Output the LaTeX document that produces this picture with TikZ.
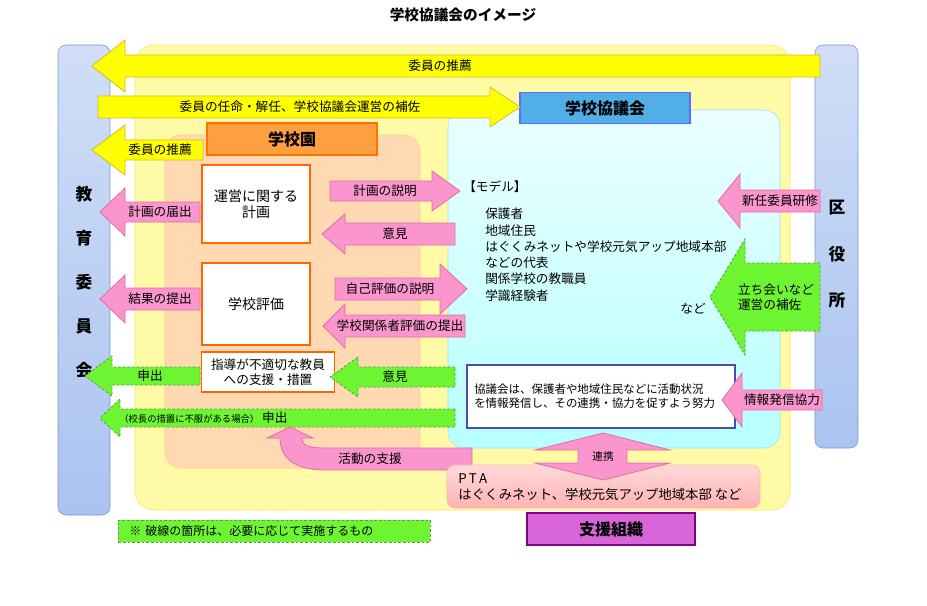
\documentclass[tikz,border=0pt]{standalone}
\usepackage{fontspec}
\setmainfont{Noto Sans CJK JP}
\usetikzlibrary{positioning}

\definecolor{yarrow}{RGB}{255,255,0}
\definecolor{yline}{RGB}{215,185,40}
\definecolor{parrow}{RGB}{250,150,205}
\definecolor{pline}{RGB}{225,110,160}
\definecolor{garrow}{RGB}{110,245,50}
\definecolor{gline}{RGB}{90,160,60}
\definecolor{panel}{RGB}{170,195,240}
\definecolor{panelline}{RGB}{120,150,210}

\tikzset{
  yarr/.style={fill=yarrow,draw=yline,line width=0.6pt},
  parr/.style={fill=parrow,draw=pline,line width=0.6pt},
  garr/.style={fill=garrow,draw=gline,line width=0.6pt,dash pattern=on 2pt off 1.5pt},
  lbl/.style={inner sep=0.75pt,font=\fontsize{9.5}{11}\selectfont},
  box/.style={fill=white,draw=orange!80!red,line width=1.2pt,align=center,font=\fontsize{10.5}{12}\selectfont},
  head/.style={draw,line width=0.8pt,font=\bfseries\fontsize{12}{14}\selectfont,inner sep=0pt},
  vtext/.style={font=\bfseries\fontsize{12.5}{14}\selectfont}
}

% style, tail x, head base x, tip x, centre y, half body, half head
\newcommand\flatarrow[7]{%
  \draw[#1] ({#2},{#5-#6}) -- ({#3},{#5-#6}) -- ({#3},{#5-#7}) -- ({#4},{#5})
    -- ({#3},{#5+#7}) -- ({#3},{#5+#6}) -- ({#2},{#5+#6}) -- cycle;}

\begin{document}
\begin{tikzpicture}[x=0.75pt,y=0.75pt,yscale=-1]
  \useasboundingbox (0,0) rectangle (927,606);

  % title
  \node[font=\bfseries\fontsize{11}{13}\selectfont] (title) at (463,15) {学校協議会のイメージ};

  % side panels
  \draw[rounded corners=6pt,draw=panelline,top color=panel!55,bottom color=panel] (58,45) rectangle (110,515);
  \draw[rounded corners=6pt,draw=panelline,top color=panel!55,bottom color=panel] (815,45) rectangle (858,448);
  \foreach \t [count=\i] in {教,育,委,員,会}
    \node[vtext] (kyoi\i) at (84,{150+44*\i}) {\t};
  \foreach \t [count=\i] in {区,役,所}
    \node[vtext] (ku\i) at (837,{162+46*\i}) {\t};

  % regions
  \draw[rounded corners=14pt,fill=yellow!35,draw=yellow!70!orange!60] (135,45) rectangle (790,510);
  \draw[rounded corners=12pt,fill=orange!30!white,draw=orange!40] (165,135) rectangle (420,468);
  \draw[rounded corners=12pt,draw=cyan!40,top color=cyan!8,bottom color=cyan!28] (448,110) rectangle (780,448);

  % headers
  \node[head,fill=orange!75,draw=orange!90!red,minimum width=170*0.75pt,minimum height=32*0.75pt] (gakkoen) at (292,139) {学校園};
  \node[head,fill=cyan!80!blue!70,draw=blue!60,minimum width=170*0.75pt,minimum height=31*0.75pt] (kyogikai) at (605,108) {学校協議会};

  % yellow arrows
  \flatarrow{yarr}{820}{125}{92}{66}{11}{26}
  \node[lbl] (suisen1) at (440,66) {委員の推薦};
  \flatarrow{yarr}{98}{490}{520}{107}{11}{20}
  \node[lbl] (ninmei) at (300,107) {委員の任命・解任、学校協議会運営の補佐};
  \flatarrow{yarr}{203}{125}{92}{150}{10}{25}
  \node[lbl] (suisen2) at (160,150) {委員の推薦};

  % school boxes
  \node[box,minimum width=108*0.75pt,minimum height=78*0.75pt] (keikaku) at (256,204) {運営に関する\\計画};
  \node[box,minimum width=108*0.75pt,minimum height=82*0.75pt] (hyoka) at (256,304) {学校評価};
  \node[box,minimum width=133*0.75pt,minimum height=40*0.75pt,font=\fontsize{9.5}{11}\selectfont] (shido) at (268,372) {指導が不適切な教員\\への支援・措置};

  % pink arrows
  \flatarrow{parr}{200}{125}{100}{212}{10}{24}
  \node[lbl] (todoke) at (160,212) {計画の届出};
  \flatarrow{parr}{200}{125}{100}{299}{11}{24}
  \node[lbl] (teishutsu) at (160,299) {結果の提出};
  \flatarrow{parr}{330}{432}{460}{191}{10}{20}
  \node[lbl] (setsumei) at (385,191) {計画の説明};
  \flatarrow{parr}{455}{345}{322}{234}{11}{20}
  \node[lbl] (iken1) at (395,234) {意見};
  \flatarrow{parr}{335}{440}{467}{289}{11}{25}
  \node[lbl] (jiko) at (390,289) {自己評価の説明};
  \flatarrow{parr}{465}{345}{323}{326}{11}{22}
  \node[lbl] (kankei) at (400,326) {学校関係者評価の提出};

  % green arrows
  \flatarrow{garr}{200}{112}{85}{376}{9}{20}
  \node[lbl] (moshide1) at (150,376) {申出};
  \flatarrow{garr}{455}{358}{330}{377}{10}{20}
  \node[lbl] (iken2) at (395,377) {意見};
  \flatarrow{garr}{455}{120}{100}{418}{9}{19}
  \node[lbl,anchor=west] (moshide2) at (118,418) {{\fontsize{7}{8}\selectfont（校長の措置に不服がある場合）}\ 申出};

  % curved support arrow
  \draw[parr] (472,448) -- (325,448) .. controls (308,448) and (302,445) .. (302,438)
    -- (313,438) -- (290,427) -- (267,438) -- (280,438) .. controls (280,458) and (295,470) .. (325,470)
    -- (472,470) -- cycle;
  \node[lbl] (shien) at (370,459) {活動の支援};

  % council contents
  \node[lbl,anchor=west] (model) at (462,187) {【モデル】};
  \node[lbl,anchor=north west,align=left,font=\fontsize{9.5}{12.2}\selectfont] (members) at (484,207)
    {保護者\\地域住民\\はぐくみネットや学校元気アップ地域本部\\などの代表\\関係学校の教職員\\学識経験者};
  \node[lbl] (nado1) at (693,309) {など};
  \draw[fill=white,draw=blue!60!black!70,line width=1pt] (467,365) rectangle (735,428);
  \node[align=left,anchor=west,inner sep=0pt,font=\fontsize{8.6}{10.5}\selectfont] (doryoku) at (474,396)
    {協議会は、保護者や地域住民などに活動状況\\を情報発信し、その連携・協力を促すよう努力};

  % ward office arrows
  \flatarrow{parr}{820}{740}{718}{201}{11}{27}
  \node[lbl] (kenshu) at (780,201) {新任委員研修};
  \flatarrow{garr}{820}{745}{710}{297}{34}{58}
  \node[lbl,align=left] (tachiai) at (776,297) {立ち会いなど\\運営の補佐};
  \flatarrow{parr}{822}{742}{722}{400}{10}{27}
  \node[lbl] (hasshin) at (782,400) {情報発信協力};

  % support organisations
  \draw[rounded corners=6pt,draw=red!30,top color=red!15,bottom color=red!30] (447,465) rectangle (760,508);
  \node[lbl,anchor=west,align=left,font=\fontsize{10}{12}\selectfont] (pta) at (457,487) {P\,T\,A\\はぐくみネット、学校元気アップ地域本部 など};
  \node[head,fill=violet!50!magenta!60,draw=violet,minimum width=168*0.75pt,minimum height=32*0.75pt] (soshiki) at (611,529) {支援組織};

  % cooperation double arrow
  \draw[parr] (578,450) -- (535,450) -- (603,433) -- (670,450) -- (627,450) -- (627,463)
    -- (670,463) -- (603,480) -- (535,463) -- (578,463) -- cycle;
  \node[lbl,font=\fontsize{8}{9}\selectfont] (renkei) at (603,456) {連携};

  % note
  \node[garr,anchor=west,minimum width=312*0.75pt,minimum height=22*0.75pt,inner xsep=6pt,font=\fontsize{9}{10}\selectfont,align=left,text width=290*0.75pt] (note) at (118,531)
    {※\ 破線の箇所は、必要に応じて実施するもの};
\end{tikzpicture}
\end{document}
